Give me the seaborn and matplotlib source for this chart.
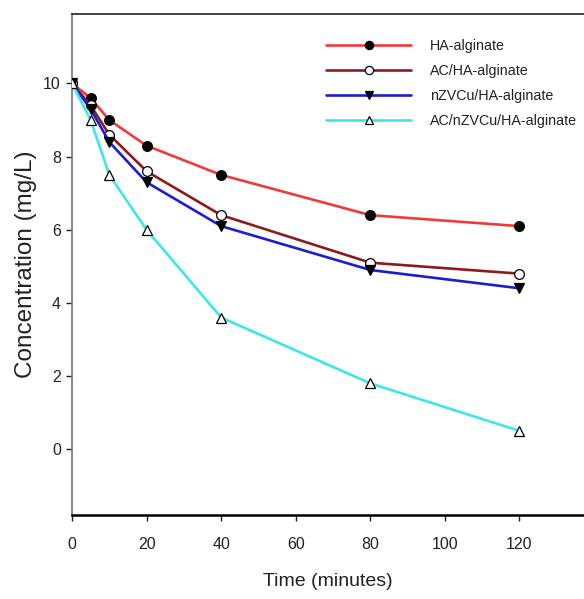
import matplotlib
matplotlib.use("Agg")
import matplotlib.pyplot as plt
import seaborn as sns
import pandas as pd

time_min = [0, 5, 10, 20, 40, 80, 120]
ha_alginate = [10.0, 9.6, 9.0, 8.3, 7.5, 6.4, 6.1]
ac_ha_alginate = [10.0, 9.4, 8.6, 7.6, 6.4, 5.1, 4.8]
nzvcu_ha_alginate = [10.0, 9.3, 8.4, 7.3, 6.1, 4.9, 4.4]
ac_nzvcu_ha_alginate = [10.0, 9.0, 7.5, 6.0, 3.6, 1.8, 0.5]

series_names = ["HA-alginate", "AC/HA-alginate", "nZVCu/HA-alginate", "AC/nZVCu/HA-alginate"]
series_values = [ha_alginate, ac_ha_alginate, nzvcu_ha_alginate, ac_nzvcu_ha_alginate]
x_ticks = [0, 20, 40, 60, 80, 100, 120]
y_ticks = [0, 2, 4, 6, 8, 10]

sns.set_style("white")
plt.rcParams["font.family"] = ["Liberation Sans Narrow", "Liberation Sans", "DejaVu Sans"]

styles = {
    "HA-alginate": dict(color="#f03a3a", marker="o", mfc="black", mec="black"),
    "AC/HA-alginate": dict(color="#8c1c1c", marker="o", mfc="white", mec="black"),
    "nZVCu/HA-alginate": dict(color="#1c1cd0", marker="v", mfc="black", mec="black"),
    "AC/nZVCu/HA-alginate": dict(color="#3ce6ea", marker="^", mfc="white", mec="black"),
}

frames = []
for name, vals in zip(series_names, series_values):
    frames.append(pd.DataFrame({"Time": time_min, "Conc": vals, "Sample": name}))
df = pd.concat(frames, ignore_index=True)

fig = plt.figure(figsize=(5.84, 5.99), dpi=100)
ax = fig.add_axes([0.1233, 0.1402, 0.8767, 0.8364])

for name in series_names:
    st = styles[name]
    sub = df[df["Sample"] == name]
    sns.lineplot(data=sub, x="Time", y="Conc", ax=ax, color=st["color"], linewidth=1.9,
                 marker=st["marker"], markersize=7, markerfacecolor=st["mfc"],
                 markeredgecolor=st["mec"], markeredgewidth=0.9, label=name, zorder=3)

ax.set_xlim(0, 137.3)
ax.set_ylim(-1.8, 11.9)
ax.set_xticks(x_ticks)
ax.set_yticks(y_ticks)
ax.tick_params(axis="both", direction="out", length=4, width=1, labelsize=11.5,
               colors="#222222", bottom=True, left=True)
ax.tick_params(axis="x", pad=12)
ax.tick_params(axis="y", pad=4)

ax.spines["right"].set_visible(False)
ax.spines["top"].set_color("#222222")
ax.spines["top"].set_linewidth(1.2)
ax.spines["bottom"].set_color("black")
ax.spines["bottom"].set_linewidth(1.8)
ax.spines["left"].set_color("#777777")
ax.spines["left"].set_linewidth(1.2)

ax.set_xlabel("Time (minutes)", fontsize=14, color="#222222")
ax.xaxis.set_label_coords(0.5, -0.115)
ax.set_ylabel("Concentration (mg/L)", fontsize=17.5, color="#222222",
              family=["Liberation Sans", "DejaVu Sans"])
ax.yaxis.set_label_coords(-0.068, 0.5)

leg = ax.legend(loc="upper left", bbox_to_anchor=(0.497, 0.950), frameon=False,
                handlelength=5.9, handletextpad=1.35, labelspacing=0.76, fontsize=10.3,
                markerscale=0.85, borderaxespad=0, borderpad=0)
for t in leg.get_texts():
    t.set_color("#222222")

fig.savefig("out.png", dpi=100)
